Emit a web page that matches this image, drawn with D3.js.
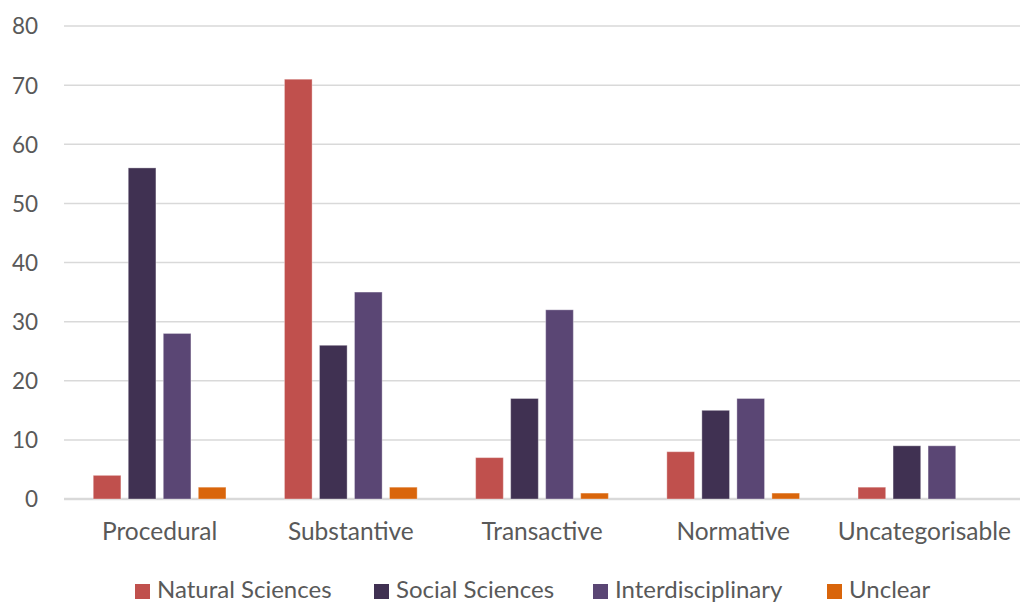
<!DOCTYPE html>
<html><head><meta charset="utf-8">
<script src="https://cdn.jsdelivr.net/npm/d3@7"></script>
<style>body{margin:0;background:#fff}svg{display:block}</style>
</head><body>
<script>
const categories = ["Procedural","Substantive","Transactive","Normative","Uncategorisable"];
const seriesNames = ["Natural Sciences","Social Sciences","Interdisciplinary","Unclear"];
const naturalSciences = [4,71,7,8,2];
const socialSciences = [56,26,17,15,9];
const interdisciplinary = [28,35,32,17,9];
const unclear = [2,2,1,1,0];
const yTicks = [0,10,20,30,40,50,60,70,80];
const colors = ["#C0504D","#403152","#5A4674","#D9650B"];

const W=1022,H=605;
const svg=d3.select("body").append("svg").attr("width",W).attr("height",H);
const font="Lato, 'Open Sans', sans-serif";
const x0=64,x1=1020,yTop=26,yBot=499;
const y=d3.scaleLinear().domain([0,80]).range([yBot,yTop]);
const xb=d3.scaleBand().domain(categories).range([x0,x1]).paddingInner(0).paddingOuter(0);
const inner=d3.scaleBand().domain(seriesNames).range([0,xb.bandwidth()]).paddingInner(0.21).paddingOuter(0.835);

// gridlines
const g=svg.append("g");
g.selectAll("line").data(yTicks).join("line")
 .attr("x1",x0).attr("x2",x1).attr("y1",d=>y(d)).attr("y2",d=>y(d))
 .attr("stroke","#D9D9D9").attr("stroke-width",d=>d===0?2.5:1.5);

// y labels
const ya=svg.append("g").attr("transform",`translate(38,0)`).call(d3.axisLeft(y).tickValues(yTicks).tickSize(0).tickPadding(0));
ya.select(".domain").remove();
ya.selectAll("text").attr("font-family",font).attr("font-size",22.5).attr("fill","#595959").attr("dy","0.35em");

const allSeries=[naturalSciences,socialSciences,interdisciplinary,unclear];
allSeries.forEach((vals,si)=>{
  svg.append("g").selectAll("rect").data(vals).join("rect")
   .attr("x",(d,i)=>xb(categories[i])+inner(seriesNames[si]))
   .attr("width",inner.bandwidth())
   .attr("y",d=>y(d)).attr("height",d=>yBot-y(d))
   .attr("fill",colors[si]).attr("stroke","#ffffff").attr("stroke-opacity",0.35).attr("stroke-width",1);
});

// x labels
const xa=svg.append("g").attr("transform",`translate(0,${yBot})`).call(d3.axisBottom(xb).tickSize(0).tickPadding(24));
xa.select(".domain").remove();
xa.selectAll("text").attr("font-family",font).attr("font-size",24.5).attr("fill","#595959").attr("dy","0.71em");

// legend
const legX=[135,374,593,827];
const lg=svg.append("g");
seriesNames.forEach((n,i)=>{
  lg.append("rect").attr("x",legX[i]).attr("y",584).attr("width",15).attr("height",15).attr("fill",colors[i]);
  lg.append("text").attr("x",legX[i]+22).attr("y",590).attr("dy","0.35em")
   .attr("font-family",font).attr("font-size",24).attr("fill","#595959").text(n);
});
</script>
</body></html>
